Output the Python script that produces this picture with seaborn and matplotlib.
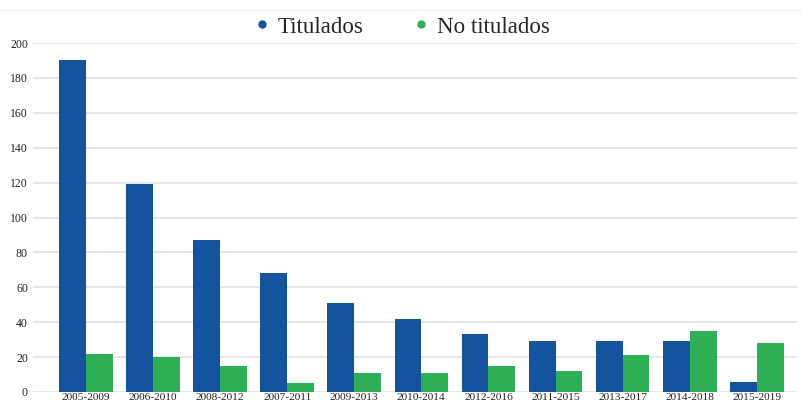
import matplotlib
matplotlib.use("Agg")
import matplotlib.pyplot as plt
from matplotlib.lines import Line2D
import seaborn as sns
import pandas as pd

periods = ["2005-2009", "2006-2010", "2008-2012", "2007-2011", "2009-2013", "2010-2014",
           "2012-2016", "2011-2015", "2013-2017", "2014-2018", "2015-2019"]
titulados = [190, 119, 87, 68, 51, 42, 33, 29, 29, 29, 6]
no_titulados = [22, 20, 15, 5, 11, 11, 15, 12, 21, 35, 28]
series_names = ["Titulados", "No titulados"]
colors = ["#15539f", "#2caf55"]

df = pd.DataFrame({
    "periodo": periods * 2,
    "valor": titulados + no_titulados,
    "grupo": [series_names[0]] * len(periods) + [series_names[1]] * len(periods),
})

sns.set_theme(style="white")
plt.rcParams["font.family"] = ["Liberation Serif", "DejaVu Serif"]

fig = plt.figure(figsize=(8.02, 4.05), dpi=100)
ax = fig.add_axes([33 / 802, 1 - 392 / 405, (797 - 33) / 802, (392 - 43) / 405])

sns.barplot(data=df, x="periodo", y="valor", hue="grupo", palette=colors,
            width=0.8, ax=ax, saturation=1, legend=False, linewidth=0)

ax.set_xlim(-0.79, 10.6)
ax.set_ylim(0, 200)
ax.set_yticks(range(0, 201, 20))
ax.grid(axis="y", color="#e4e4e4", linewidth=1.3)
ax.set_axisbelow(True)
for s in ax.spines.values():
    s.set_visible(False)
ax.set_xlabel("")
ax.set_ylabel("")
ax.tick_params(axis="x", length=0, labelsize=8.2, colors="#222222", pad=0.5)
ax.tick_params(axis="y", length=0, labelsize=8.5, colors="#222222", pad=3.6)

fig.add_artist(Line2D([0, 1], [1 - 10 / 405, 1 - 10 / 405], color="#f2f2f2", linewidth=1))

handles = [Line2D([], [], marker="o", linestyle="", color=c, markersize=5) for c in colors]
fig.legend(handles, series_names, loc="center", bbox_to_anchor=(0.5, 1 - 27 / 405), ncol=2,
           frameon=False, fontsize=16.5, handletextpad=0.3, columnspacing=2.1, handlelength=0.8)

fig.savefig("out.png", dpi=100)
